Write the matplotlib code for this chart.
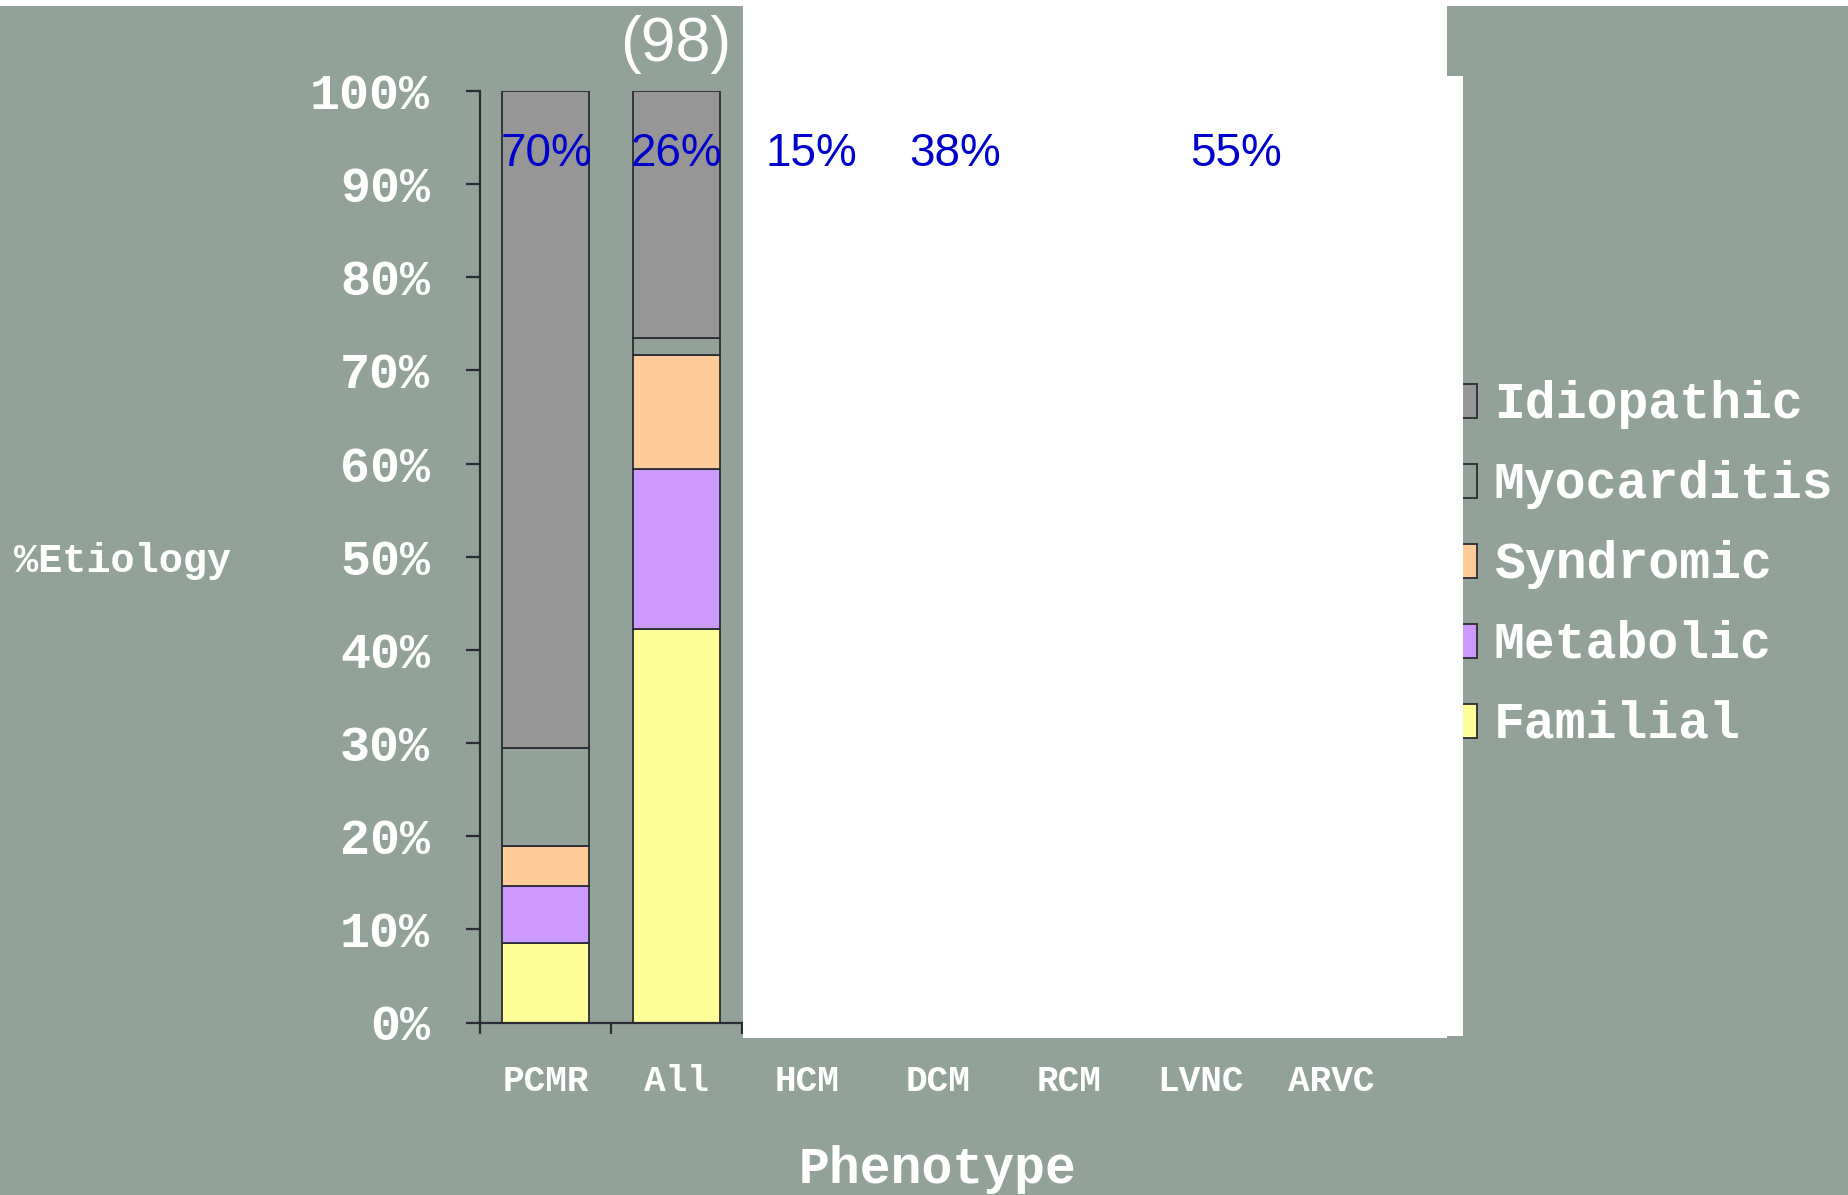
import numpy as np
import matplotlib
matplotlib.use('Agg')
import matplotlib.pyplot as plt
from matplotlib.patches import Rectangle

categories = ['PCMR', 'All', 'HCM', 'DCM', 'RCM', 'LVNC', 'ARVC']
series = ['Familial', 'Metabolic', 'Syndromic', 'Myocarditis', 'Idiopathic']
# % of each etiology, only PCMR and All are visible on the slide
familial = [8.5, 42.2]
metabolic = [6.2, 17.2]
syndromic = [4.3, 12.3]
myocarditis = [10.5, 1.8]
idiopathic = [70.5, 26.5]
idio_labels = ['70%', '26%', '15%', '38%', '55%']
idio_label_cats = [0, 1, 2, 3, 5]
count_label = '(98)'
yticks = np.arange(0, 101, 10)

bg = '#92a298'
edge = '#2b2b35'
colors = ['#ffff99', '#cc99ff', '#ffcc99', bg, '#969696']
mono = 'Liberation Mono'
W, H = 1849, 1195

fig = plt.figure(figsize=(W / 100, H / 100), dpi=100)
fig.patch.set_facecolor('white')
# slide background (thin white strip on top)
fig.patches.append(Rectangle((0, 0), 1, (H - 6) / H, transform=fig.transFigure,
                             facecolor=bg, edgecolor='none', zorder=-10))

ax = fig.add_axes([480 / W, (H - 1022.5) / H, 917 / W, 931.5 / H])
ax.set_facecolor('none')

x = np.arange(len(familial))
bottom = np.zeros(len(familial))
for name, vals, c in zip(series, [familial, metabolic, syndromic, myocarditis, idiopathic], colors):
    ax.bar(x, vals, width=0.67, bottom=bottom, color=c, edgecolor=edge, linewidth=1.3, label=name)
    bottom += np.array(vals)

ax.set_xlim(-0.5, len(categories) - 0.5)
ax.set_ylim(0, 100)
for s in ['top', 'right']:
    ax.spines[s].set_visible(False)
for s in ['left', 'bottom']:
    ax.spines[s].set_color(edge)
    ax.spines[s].set_linewidth(1.6)

ax.set_yticks(yticks)
ax.set_yticklabels([f'{v}%' for v in yticks], fontfamily=mono, fontweight='bold',
                   fontsize=36, color='white')
ax.tick_params(axis='y', length=10, width=1.6, color=edge, pad=26)

ax.set_xticks(np.arange(len(categories)))
ax.set_xticklabels(categories, fontfamily=mono, fontweight='bold', fontsize=26, color='white')
ax.set_xticks(np.arange(len(categories) + 1) - 0.5, minor=True)
ax.tick_params(axis='x', which='major', length=0, pad=30)
ax.tick_params(axis='x', which='minor', length=8, width=1.6, color=edge)

ax.text(0.99, 103.2, count_label, ha='center', va='baseline', fontsize=45,
        color='white', family=['Liberation Sans', 'DejaVu Sans'], clip_on=False)

fig.text(14 / W, (H - 572) / H, '%Etiology', fontfamily=mono, fontweight='bold',
         fontsize=29, color='white', ha='left', va='baseline')
fig.text(938 / W, (H - 1183) / H, 'Phenotype', fontfamily=mono, fontweight='bold',
         fontsize=37, color='white', ha='center', va='baseline')

# legend drawn by hand, top entry first
for i, (name, c) in enumerate(zip(series[::-1], colors[::-1])):
    yc = 401 + 80 * i
    fig.patches.append(Rectangle((1443 / W, (H - yc - 17) / H), 34 / W, 34 / H,
                                 transform=fig.transFigure, facecolor=c,
                                 edgecolor=edge, linewidth=1.3, zorder=5))
    fig.text(1494 / W, (H - yc - 17) / H, name, fontfamily=mono, fontweight='bold',
             fontsize=37, color='white', ha='left', va='baseline', zorder=6)

# white boxes pasted over the rest of the slide
fig.patches.append(Rectangle((743 / W, (H - 1038) / H), (1447 - 743) / W, 1038 / H,
                             transform=fig.transFigure, facecolor='white',
                             edgecolor='none', zorder=10))
fig.patches.append(Rectangle((1446 / W, (H - 1036) / H), 17 / W, (1036 - 76) / H,
                             transform=fig.transFigure, facecolor='white',
                             edgecolor='none', zorder=10))

# idiopathic % labels sit on top of everything
top = fig.add_axes(ax.get_position(), zorder=20)
top.set_axis_off()
top.set_xlim(ax.get_xlim())
top.set_ylim(ax.get_ylim())
offsets = [0.01, 0.0, 0.03, 0.13, 0.27]
for lab, ci, dx in zip(idio_labels, idio_label_cats, offsets):
    top.text(ci + dx, 91.9, lab, ha='center', va='baseline', fontsize=33, color='#0000cc',
             family=['Liberation Sans', 'DejaVu Sans'], clip_on=False)

fig.savefig('out.png', dpi=100, facecolor=fig.get_facecolor())
